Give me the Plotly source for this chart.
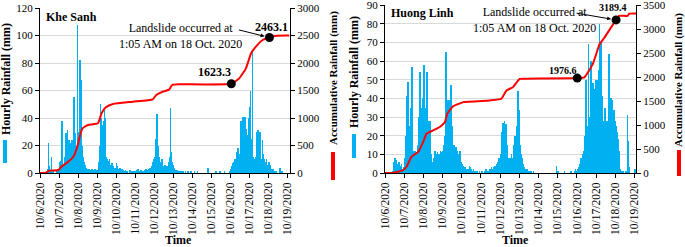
import plotly.graph_objects as go
import pandas as pd

W, H = 685, 247
FONT = "Liberation Serif, Times New Roman, serif"

# ---------------- data ----------------
day_ticks = [f"2020-10-{d:02d}" for d in range(6, 20)]
tick_labels = [f"10/{d}/2020" for d in range(6, 20)]

# Khe Sanh hourly rainfall (mm), from 10/6 00:00, one row per day
ks_hourly = (
    [0, 0, 0, 0, 0, 0, 0, 0, 1, 3, 22, 5, 2, 1, 12, 2, 1, 0, 0, 0, 0, 1, 2, 3]
    + [8, 5, 9, 38, 10, 6, 5, 12, 29, 8, 31, 6, 24, 10, 22, 8, 24, 12, 55, 41, 29, 12, 20, 108]
    + [30, 45, 82, 40, 68, 20, 12, 8, 6, 5, 4, 3, 3, 2, 3, 2, 2, 3, 2, 1, 2, 3, 2, 2]
    + [2, 3, 8, 20, 50, 40, 35, 30, 38, 46, 40, 12, 10, 9, 8, 10, 6, 5, 7, 4, 5, 3, 4, 3]
    + [7, 5, 3, 2, 4, 2, 1, 3, 2, 1, 1, 2, 1, 0, 1, 0, 1, 2, 1, 0, 1, 1, 0, 1]
    + [1, 2, 1, 3, 1, 0, 1, 2, 0, 1, 0, 1, 2, 3, 2, 1, 3, 2, 4, 3, 5, 6, 8, 10]
    + [12, 18, 25, 43, 20, 15, 12, 8, 6, 10, 7, 5, 4, 6, 5, 3, 4, 5, 8, 12, 47, 15, 8, 6]
    + [4, 3, 2, 2, 1, 2, 1, 1, 1, 0, 1, 0, 1, 0, 0, 1, 0, 0, 1, 0, 0, 0, 1, 0]
    + [0, 0, 1, 0, 0, 0, 1, 0, 0, 0, 0, 0, 0, 0, 0, 0, 0, 0, 0, 4, 1, 0, 0, 0]
    + [0, 0, 0, 0, 0, 1, 0, 0, 0, 0, 1, 0, 0, 0, 0, 0, 1, 0, 0, 0, 0, 0, 1, 0]
    + [3, 5, 7, 6, 8, 10, 7, 12, 15, 18, 10, 14, 20, 38, 22, 41, 30, 25, 41, 32, 25, 28, 35, 40]
    + [48, 60, 25, 89, 12, 8, 10, 6, 12, 30, 31, 10, 14, 30, 8, 10, 24, 14, 10, 8, 6, 10, 5, 6]
    + [8, 6, 4, 3, 2, 3, 1, 0, 0, 1, 0, 0, 0, 2, 4, 1, 0, 1, 0, 0, 0, 0, 0, 0]
    + [0, 0]
)

# Huong Linh hourly rainfall (mm)
hl_hourly = (
    [0, 0, 0, 0, 0, 0, 0, 0, 0, 1, 2, 6, 8, 3, 7, 5, 2, 6, 4, 3, 5, 2, 1, 3]
    + [8, 12, 20, 41, 49, 30, 25, 20, 35, 57, 20, 12, 10, 12, 8, 10, 12, 15, 30, 54, 43, 25, 35, 40]
    + [58, 40, 35, 30, 54, 28, 20, 12, 28, 10, 6, 5, 8, 6, 12, 10, 8, 11, 6, 10, 9, 12, 10, 11]
    + [12, 15, 20, 35, 65, 30, 39, 28, 39, 30, 47, 25, 15, 14, 15, 12, 14, 10, 12, 8, 10, 12, 8, 6]
    + [5, 4, 3, 2, 3, 2, 1, 2, 1, 4, 3, 2, 1, 1, 2, 1, 0, 1, 0, 1, 0, 0, 1, 0]
    + [0, 1, 0, 0, 1, 0, 2, 1, 0, 1, 0, 2, 1, 3, 2, 1, 3, 4, 2, 5, 3, 6, 8, 5]
    + [10, 12, 22, 27, 24, 28, 23, 26, 15, 10, 8, 6, 8, 5, 10, 8, 12, 15, 20, 18, 25, 30, 44, 34]
    + [31, 15, 10, 8, 5, 4, 3, 2, 2, 1, 2, 1, 1, 0, 1, 0, 0, 1, 0, 0, 0, 0, 0, 0]
    + [0, 0, 0, 0, 0, 0, 0, 0, 0, 0, 0, 0, 0, 0, 0, 0, 0, 0, 0, 0, 0, 0, 4, 1]
    + [1, 0, 0, 0, 0, 0, 0, 0, 1, 0, 0, 0, 0, 0, 0, 0, 1, 0, 0, 0, 0, 1, 2, 1]
    + [1, 2, 3, 5, 4, 8, 6, 10, 12, 14, 20, 50, 25, 20, 69, 30, 25, 60, 35, 42, 48, 45, 42, 50]
    + [40, 50, 45, 55, 80, 30, 70, 41, 28, 25, 30, 35, 26, 28, 25, 40, 64, 38, 40, 30, 39, 25, 34, 28]
    + [26, 25, 22, 18, 12, 5, 2, 1, 0, 1, 0, 0, 0, 1, 0, 31, 17, 3, 0, 0, 0, 0, 0, 0]
    + [2, 1]
)

# Accumulative rainfall (mm)
ks_cum_time = ["2020-10-06 00:00", "2020-10-06 08:00", "2020-10-06 10:00", "2020-10-06 13:00",
               "2020-10-06 23:00", "2020-10-07 03:00", "2020-10-07 11:30", "2020-10-07 18:00",
               "2020-10-07 23:00", "2020-10-08 02:00", "2020-10-08 05:30", "2020-10-08 12:30",
               "2020-10-09 01:00", "2020-10-09 05:30", "2020-10-09 11:00", "2020-10-09 20:00",
               "2020-10-10 21:00", "2020-10-11 22:00", "2020-10-12 02:30", "2020-10-12 11:00",
               "2020-10-12 19:00", "2020-10-12 22:30", "2020-10-13 08:00", "2020-10-16 01:05",
               "2020-10-16 11:00", "2020-10-16 19:30", "2020-10-17 02:00", "2020-10-17 08:00",
               "2020-10-17 16:30", "2020-10-18 01:05", "2020-10-18 10:00", "2020-10-19 02:00"]
ks_cum_value = [0, 5, 30, 45, 55, 115, 205, 296, 478, 660, 812, 873, 903, 1085, 1194, 1255,
                1297, 1339, 1418, 1479, 1521, 1600, 1612, 1623.3, 1721, 1903, 2176, 2297,
                2418, 2463.1, 2497, 2500]

hl_cum_time = ["2020-10-06 00:00", "2020-10-06 09:00", "2020-10-06 16:30", "2020-10-06 23:00",
               "2020-10-07 03:00", "2020-10-07 09:00", "2020-10-07 17:30", "2020-10-07 23:45",
               "2020-10-08 04:00", "2020-10-08 08:00", "2020-10-08 20:30", "2020-10-09 03:00",
               "2020-10-09 06:00", "2020-10-09 13:00", "2020-10-10 02:00", "2020-10-11 11:00",
               "2020-10-12 01:30", "2020-10-12 08:00", "2020-10-12 16:00", "2020-10-13 00:30",
               "2020-10-13 09:00", "2020-10-16 00:30", "2020-10-16 09:30", "2020-10-16 20:00",
               "2020-10-17 04:30", "2020-10-17 10:30", "2020-10-18 01:05", "2020-10-18 05:00",
               "2020-10-18 15:30", "2020-10-18 17:30", "2020-10-19 02:00"]
hl_cum_value = [0, 0, 27, 62, 130, 337, 441, 648, 822, 855, 959, 1062, 1236, 1387, 1476, 1512,
                1547, 1719, 1787, 1961, 1965, 1976.6, 1994, 2272, 2686, 2822, 3189.4, 3272,
                3275, 3320, 3325]

ks_mark_time = ["2020-10-16 01:05", "2020-10-18 01:05"]
ks_mark_value = [1623.3, 2463.1]
hl_mark_time = ["2020-10-16 00:30", "2020-10-18 01:05"]
hl_mark_value = [1976.6, 3189.4]

ks_hours = pd.date_range("2020-10-06 00:30", periods=len(ks_hourly), freq="h")
hl_hours = pd.date_range("2020-10-06 00:30", periods=len(hl_hourly), freq="h")

BLUE = "#00B0F0"
RED = "#FF0000"

fig = go.Figure()
bw = 3600 * 1000 * 0.7
fig.add_trace(go.Bar(x=ks_hours, y=ks_hourly, width=bw, marker=dict(color=BLUE, line=dict(width=0)),
                     xaxis="x", yaxis="y"))
fig.add_trace(go.Scatter(x=pd.to_datetime(ks_cum_time), y=ks_cum_value, mode="lines",
                         line=dict(color=RED, width=2, shape="spline", smoothing=0.4), xaxis="x", yaxis="y2"))
fig.add_trace(go.Scatter(x=pd.to_datetime(ks_mark_time), y=ks_mark_value, mode="markers",
                         marker=dict(color="black", size=9), xaxis="x", yaxis="y2"))
fig.add_trace(go.Bar(x=hl_hours, y=hl_hourly, width=bw, marker=dict(color=BLUE, line=dict(width=0)),
                     xaxis="x2", yaxis="y3"))
fig.add_trace(go.Scatter(x=pd.to_datetime(hl_cum_time), y=hl_cum_value, mode="lines",
                         line=dict(color=RED, width=2, shape="spline", smoothing=0.4), xaxis="x2", yaxis="y4"))
fig.add_trace(go.Scatter(x=pd.to_datetime(hl_mark_time), y=hl_mark_value, mode="markers",
                         marker=dict(color="black", size=9), xaxis="x2", yaxis="y4"))


def px_x(p):
    return p / W


def px_y(p):
    return 1 - p / H


tickfont = dict(family=FONT, size=11, color="black")
xcommon = dict(type="date", tickmode="array", tickvals=day_ticks, ticktext=tick_labels,
               tickangle=-90, tickfont=dict(family=FONT, size=11.5, color="black"),
               showline=True, linecolor="black", linewidth=1, ticks="outside", ticklen=4,
               tickcolor="black", showgrid=False, zeroline=False, automargin=False)
ycommon = dict(showline=True, linecolor="black", linewidth=1, ticks="outside", ticklen=4,
               tickcolor="black", tickfont=tickfont, zeroline=False, automargin=False,
               ticklabeloverflow="allow")

fig.update_layout(
    width=W, height=H, margin=dict(l=0, r=0, t=0, b=0),
    paper_bgcolor="white", plot_bgcolor="white", showlegend=False, bargap=0,
    xaxis=dict(domain=[px_x(40), px_x(290)], anchor="y",
               range=["2020-10-06 00:00", "2020-10-19 03:00"], **xcommon),
    yaxis=dict(domain=[px_y(173), px_y(8)], anchor="x", range=[0, 120], dtick=20, showgrid=True,
               gridcolor="#d9d9d9", gridwidth=1, **ycommon),
    yaxis2=dict(overlaying="y", side="right", anchor="x", range=[0, 3000], dtick=500,
                showgrid=False, **ycommon),
    xaxis2=dict(domain=[px_x(385), px_x(636)], anchor="y3",
                range=["2020-10-06 00:00", "2020-10-19 02:00"], **xcommon),
    yaxis3=dict(domain=[px_y(173), px_y(5)], anchor="x2", range=[0, 90], dtick=10, showgrid=True,
                gridcolor="#d9d9d9", gridwidth=1, **ycommon),
    yaxis4=dict(overlaying="y3", side="right", anchor="x2", range=[0, 3500], dtick=500,
                showgrid=False, **ycommon),
)

ann = []


def paper_text(x, y, text, size=11, angle=0, bold=True, xanchor="center", yanchor="middle"):
    t = f"<b>{text}</b>" if bold else text
    ann.append(dict(x=px_x(x), y=px_y(y), xref="paper", yref="paper", text=t, showarrow=False,
                    textangle=angle, xanchor=xanchor, yanchor=yanchor, borderpad=0,
                    font=dict(family=FONT, size=size, color="black")))


# axis titles
paper_text(6, 79, "Hourly Rainfall (mm)", size=12, angle=-90)
paper_text(333, 78, "Accumulative Rainfall (mm)", angle=-90)
paper_text(354, 72, "Hourly Rainfall (mm)", size=12, angle=-90)
paper_text(679, 80, "Accumulative Rainfall (mm)", angle=-90)
paper_text(178, 240, "Time", size=12)
paper_text(515, 240, "Time", size=12)
paper_text(45, 17, "Khe Sanh", size=12, xanchor="left")
paper_text(390, 13, "Huong Linh", size=12, xanchor="left")
paper_text(180, 36, "Landslide occurred at<br>1:05 AM on 18 Oct. 2020", size=12, bold=False)
paper_text(534, 20, "Landslide occurred at<br>1:05 AM on 18 Oct. 2020", size=12, bold=False)

# value labels
for xr, yr, t, v, dx, dy, sz in [("x", "y2", ks_mark_time[0], ks_mark_value[0], -17, 12, 12),
                                  ("x", "y2", ks_mark_time[1], ks_mark_value[1], 2, 11, 12),
                                  ("x2", "y4", hl_mark_time[0], hl_mark_value[0], -14, 8, 10),
                                  ("x2", "y4", hl_mark_time[1], hl_mark_value[1], -3, 12, 10)]:
    ann.append(dict(x=t, y=v, xref=xr, yref=yr, text=f"<b>{v}</b>", showarrow=False,
                    xshift=dx, yshift=dy, font=dict(family=FONT, size=sz, color="black")))

# arrows
ann.append(dict(x=ks_mark_time[1], y=ks_mark_value[1], xref="x", yref="y2", text="",
                showarrow=True, arrowhead=2, arrowsize=0.8, arrowwidth=1, arrowcolor="black",
                ax=-32, ay=-8, standoff=5))
ann.append(dict(x=hl_mark_time[1], y=hl_mark_value[1], xref="x2", yref="y4", text="",
                showarrow=True, arrowhead=2, arrowsize=0.8, arrowwidth=1, arrowcolor="black",
                ax=-41, ay=-7, standoff=5))
fig.update_layout(annotations=ann)

# legend keys under axis titles
shapes = []
for x0, y0, y1, col in [(3, 140, 163, BLUE), (331, 152, 180, RED), (352, 134, 158, BLUE), (677, 150, 176, RED)]:
    shapes.append(dict(type="rect", xref="paper", yref="paper", x0=px_x(x0), x1=px_x(x0 + 4),
                       y0=px_y(y1), y1=px_y(y0), fillcolor=col, line=dict(width=0)))
fig.update_layout(shapes=shapes)

# remove the default page margin so the 685x247 figure fills the window exactly
fig.write_html("out.html", config={"displayModeBar": False},
               post_script="document.body.style.margin='0px';")
